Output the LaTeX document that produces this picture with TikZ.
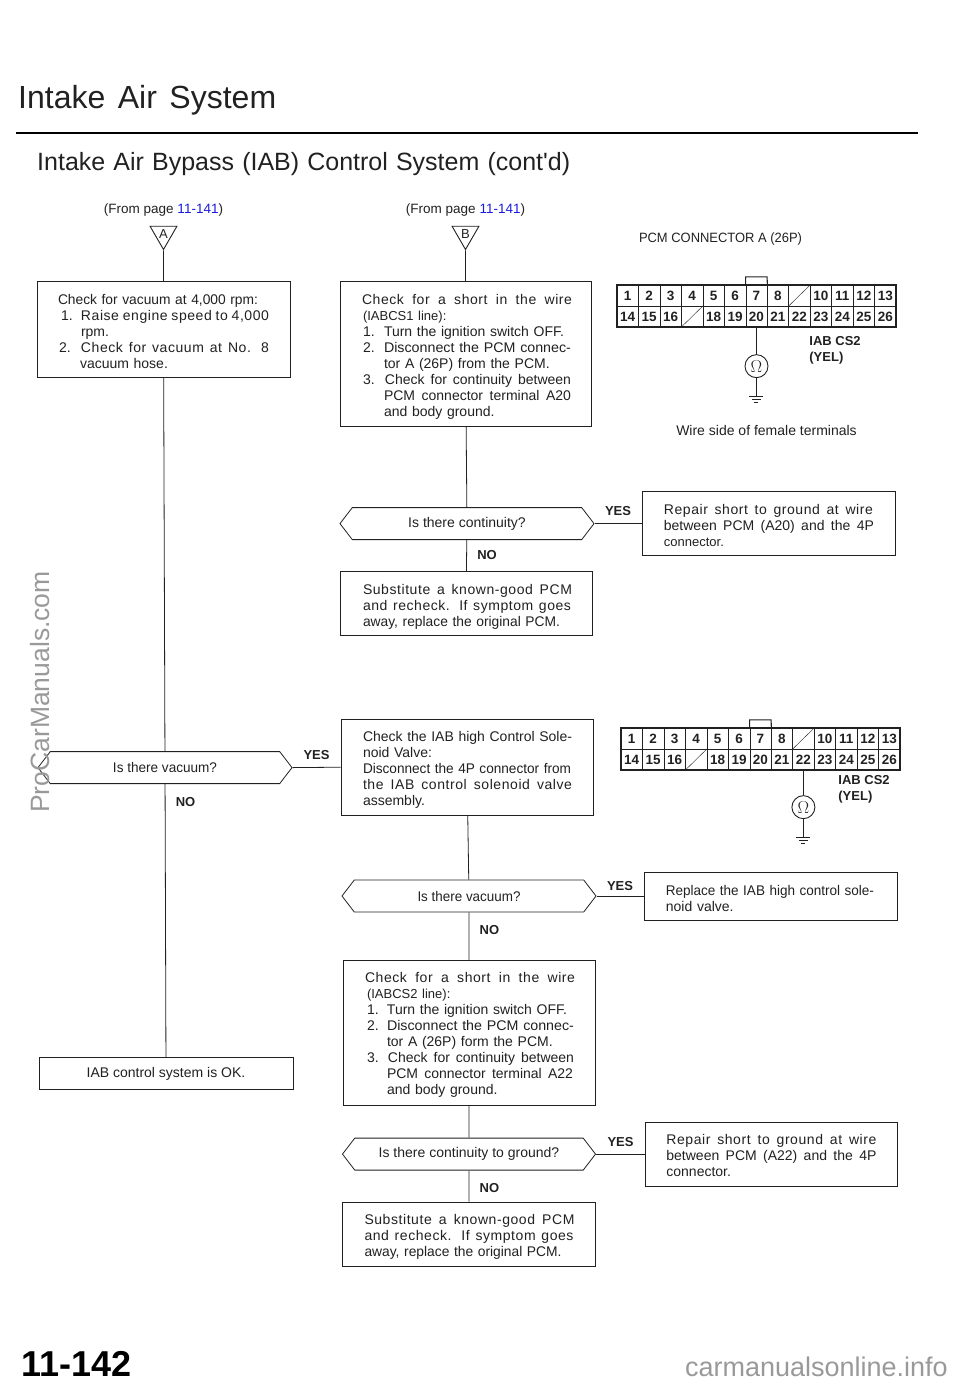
\documentclass[tikz,border=0pt]{standalone}
\usepackage{fontspec}
\usepackage{graphicx}
\usepackage{xcolor}
\usepackage{tikz}
\usetikzlibrary{shapes,arrows,positioning,calc}
\setmainfont{Liberation Sans}[Ligatures=TeXOff]
\definecolor{inkgray}{gray}{0.13}
\definecolor{linkblue}{RGB}{25,25,225}
\definecolor{markgray}{gray}{0.6}
\newcommand{\wline}[2]{\makebox[#1pt][s]{\spaceskip=0pt\xspaceskip=0pt #2}}
\newcommand{\sline}[2]{\makebox[#1pt][s]{\addfontfeature{LetterSpace=4}\spaceskip=0pt\xspaceskip=0pt #2}}
\newcommand{\tline}[2]{\resizebox{#1pt}{\height}{#2}}
\newcommand{\hang}{\hspace*{22pt}}
\newcommand{\topfix}[1]{\rule{0pt}{#1pt}}
\newcommand{\pcmconn}[6]{%
  \foreach \n in {1,...,26}{
    \pgfmathtruncatemacro{\col}{mod(\n-1,13)}
    \pgfmathtruncatemacro{\row}{int((\n-1)/13)}
    \ifnum\n=9 \def\lab{}\else\ifnum\n=17 \def\lab{}\else\def\lab{\n}\fi\fi
    \node [pincell] (#1-\n) at ({#2+(\col+.5)*21.46},{#3+(\row+.5)*21}) {\lab};
  }
  \draw [line width=1.5pt] (#1-1.north west) rectangle (#1-26.south east);
  \draw (#1-9.south west) -- (#1-9.north east);
  \draw (#1-17.south west) -- (#1-17.north east);
  \draw [line width=1.1pt] (#1-7.north west) -- ++(0,-8) -- ++(21.46,0) -- (#1-7.north east);
  \node [ohm, below=#4pt of #1-#5] (#1ohm) {$\Omega$};
  \coordinate [below=18pt of #1ohm] (#1gnd);
  \path [line] (#1-#5.south) -- (#1ohm);
  \path [line] (#1ohm) -- (#1gnd);
  \draw ($(#1gnd)+(-7,0)$) -- ++(14,0);
  \draw ($(#1gnd)+(-4.5,3)$) -- ++(9,0);
  \draw ($(#1gnd)+(-2,6)$) -- ++(4,0);
  \node [wirelabel, #6] at (#1-26.south east) {IAB CS2\\(YEL)};
}
\begin{document}
\begin{tikzpicture}[x=1pt, y=-1pt, node distance=30pt, inkgray]
  \tikzstyle{block} = [rectangle, draw, fill=white, line width=0.8pt, inner ysep=0pt, align=left, font=\fontsize{14}{16}\selectfont]
  \tikzstyle{query} = [signal, signal to=west and east, signal pointer angle=105, draw, line width=0.8pt, inner sep=0pt, minimum height=32pt, font=\fontsize{14}{16}\selectfont]
  \tikzstyle{entry} = [regular polygon, regular polygon sides=3, shape border rotate=180, draw, line width=0.9pt, inner sep=0pt, minimum size=31pt, font=\fontsize{13}{13}\selectfont]
  \tikzstyle{line} = [draw, line width=0.8pt]
  \tikzstyle{answer} = [font=\fontsize{13}{13}\bfseries\selectfont]
  \tikzstyle{note} = [font=\fontsize{14}{16}\selectfont, inner sep=0pt]
  \tikzstyle{pincell} = [rectangle, draw, line width=0.4pt, inner sep=0pt, minimum width=21.46pt, minimum height=21pt, font=\fontsize{13.5}{13.5}\bfseries\selectfont]
  \tikzstyle{ohm} = [circle, draw, line width=0.9pt, inner sep=0pt, minimum size=23pt, font=\fontsize{17}{17}\selectfont]
  \tikzstyle{wirelabel} = [align=left, inner sep=0pt, font=\fontsize{13}{16.5}\bfseries\selectfont]
  \tikzstyle{wmark} = [markgray, inner sep=0pt]

  \useasboundingbox (0,0) rectangle (960,1385);

  % page heading
  \node [anchor=base west, inner sep=0pt, font=\fontsize{32}{32}\selectfont] (title) at (18,108) {\wline{258}{Intake Air System}};
  \node [anchor=base west, inner sep=0pt, font=\fontsize{25}{25}\selectfont] (subtitle) at (37,170) {\wline{533}{Intake Air Bypass (IAB) Control System (cont'd)}};
  \coordinate (ruleL) at (16,133);
  \coordinate (ruleR) at (918,133);
  \draw [line width=2.2pt, black] (ruleL) -- (ruleR);

  % left column
  \node [note, font=\fontsize{13.5}{16}\selectfont] (fromA) at (163.5,210) {(From page \textcolor{linkblue}{11-141})};
  \node [entry] (triA) at (163.5,234) {A};
  \node [block, below=31pt of triA, minimum width=253pt, minimum height=96pt, inner xsep=21pt, text width=211pt] (vacuum) {\topfix{13}\tline{200}{Check for vacuum at 4,000 rpm:}\\
    \hspace*{3pt}\makebox[20pt][l]{1.}\sline{188}{Raise engine speed to 4,000}\\
    \hspace*{23pt}rpm.\\
    \hspace*{1pt}\makebox[22pt][l]{2.}\sline{188}{Check for vacuum at No. 8}\\
    \hspace*{22pt}vacuum hose.};
  \node [query, minimum width=254pt, below=373pt of vacuum, xshift=1.5pt] (askvac) {\tline{104}{Is there vacuum?}};
  \node [block, minimum width=254pt, minimum height=32pt, align=center, below=273pt of askvac, xshift=1pt] (okbox) {\topfix{12}IAB control system is OK.};

  % middle column
  \node [note, font=\fontsize{13.5}{16}\selectfont] (fromB) at (465.5,210) {(From page \textcolor{linkblue}{11-141})};
  \node [entry] (triB) at (465.5,234) {B};
  \node [block, below=31pt of triB, minimum width=251pt, minimum height=145pt, inner xsep=22pt, text width=207pt] (short) {\topfix{16}\sline{210}{Check for a short in the wire}\\
    \hspace*{1pt}{\fontsize{13}{16}\selectfont (IABCS1 line):}\\
    \hspace*{1pt}\makebox[21pt][l]{1.}Turn the ignition switch OFF.\\
    \hspace*{1pt}\makebox[21pt][l]{2.}\tline{187}{Disconnect the PCM connec-}\\
    \hang tor A (26P) from the PCM.\\
    \hspace*{1pt}\makebox[22pt][l]{3.}\wline{186}{Check for continuity between}\\
    \hang\wline{187}{PCM connector terminal A20}\\
    \hang and body ground.};
  \node [query, minimum width=254pt, below=80pt of short, xshift=1.5pt] (askcont) {Is there continuity?};
  \node [block, minimum width=252pt, minimum height=64pt, inner xsep=23pt, text width=206pt, below=31pt of askcont, xshift=-1pt] (sub) {\topfix{18}\sline{209}{Substitute a known-good PCM}\\
    \sline{208}{and recheck. If symptom goes}\\
    \tline{197}{away, replace the original PCM.}};
  \node [block, minimum width=252pt, minimum height=96pt, inner xsep=22pt, text width=208pt, below=83pt of sub, xshift=1pt] (solenoid) {\topfix{15}\tline{209}{Check the IAB high Control Sole-}\\
    noid Valve:\\
    \tline{208}{Disconnect the 4P connector from}\\
    \sline{209}{the IAB control solenoid valve}\\
    assembly.};
  \node [query, minimum width=254pt, below=64pt of solenoid, xshift=2pt] (askvacb) {\tline{103}{Is there vacuum?}};
  \node [block, minimum width=252pt, minimum height=145pt, inner xsep=22pt, text width=208pt, below=47.5pt of askvacb] (shortb) {\topfix{15}\sline{210}{Check for a short in the wire}\\
    \hspace*{2pt}{\fontsize{13}{16}\selectfont (IABCS2 line):}\\
    \hspace*{2pt}\makebox[20pt][l]{1.}Turn the ignition switch OFF.\\
    \hspace*{2pt}\makebox[20pt][l]{2.}\tline{187}{Disconnect the PCM connec-}\\
    \hang tor A (26P) form the PCM.\\
    \hspace*{2pt}\makebox[21pt][l]{3.}\wline{186}{Check for continuity between}\\
    \hang\wline{186}{PCM connector terminal A22}\\
    \hang and body ground.};
  \node [query, minimum width=253pt, below=32pt of shortb] (askgnd) {Is there continuity to ground?};
  \node [block, minimum width=253pt, minimum height=64pt, inner xsep=22pt, text width=209pt, below=31pt of askgnd] (subb) {\topfix{17}\sline{210}{Substitute a known-good PCM}\\
    \sline{209}{and recheck. If symptom goes}\\
    \tline{197}{away, replace the original PCM.}};

  % right column
  \node [block, minimum width=253pt, minimum height=64pt, inner xsep=22pt, text width=209pt, right=47pt of askcont] (repair) {\topfix{13}\sline{209}{Repair short to ground at wire}\\
    \wline{210}{between PCM (A20) and the 4P}\\
    {\fontsize{13}{16}\selectfont connector.}};
  \node [block, minimum width=253pt, minimum height=48pt, inner xsep=22pt, text width=209pt, right=47pt of askvacb] (replace) {\topfix{15}\tline{208}{Replace the IAB high control sole-}\\
    noid valve.};
  \node [block, minimum width=252pt, minimum height=64pt, inner xsep=21pt, text width=210pt, right=49pt of askgnd] (repairb) {\topfix{13}\sline{210}{Repair short to ground at wire}\\
    \wline{210}{between PCM (A22) and the 4P}\\
    connector.};

  % connectors of the left column
  \path [line] (triA) -- (vacuum);
  \path [line] (vacuum) -- (askvac);
  \path [line] (askvac) -- node[answer, right=7pt, pos=0.066] {NO} (okbox);
  \path [line] (askvac.east) -- node[answer, above=4pt] {YES} (solenoid.west);

  % connectors of the middle column
  \path [line] (triB) -- (short);
  \path [line] (short) -- (askcont);
  \path [line] (askcont) -- node[answer, right=7pt] {NO} (sub);
  \path [line] (askcont.east) -- node[answer, above=4pt] {YES} (repair.west);
  \path [line] (solenoid) -- (askvacb);
  \path [line] (askvacb) -- node[answer, right=7pt, pos=0.37] {NO} (shortb);
  \path [line] (askvacb.east) -- node[answer, above=2pt] {YES} (replace.west);
  \path [line] (shortb) -- (askgnd);
  \path [line] (askgnd) -- node[answer, right=7pt, pos=0.55] {NO} (subb);
  \path [line] (askgnd.east) -- node[answer, above=4pt] {YES} (repairb.west);

  % connector drawings
  \node [note, font=\fontsize{13.5}{16}\selectfont] (conntitle) at (720.5,239) {\tline{163}{PCM CONNECTOR A (26P)}};
  \pcmconn{conA}{617}{285}{27}{20}{anchor=north west, xshift=-87pt, yshift=-9pt}
  \pcmconn{conB}{621}{728}{25}{22}{anchor=north west, xshift=-62pt, yshift=-5pt}
  \node [note] (wireside) at (766.5,430) {Wire side of female terminals};

  % page number and marks
  \node [anchor=base west, inner sep=0pt, font=\fontsize{36}{36}\bfseries\selectfont, black] (pageno) at (21,1376) {11-142};
  \node [wmark, rotate=90, font=\fontsize{26.5}{26.5}\selectfont] (markL) at (40,692) {ProCarManuals.com};
  \node [wmark, anchor=base east, font=\fontsize{27}{27}\selectfont] (markR) at (948,1376) {carmanualsonline.info};
\end{tikzpicture}
\end{document}
